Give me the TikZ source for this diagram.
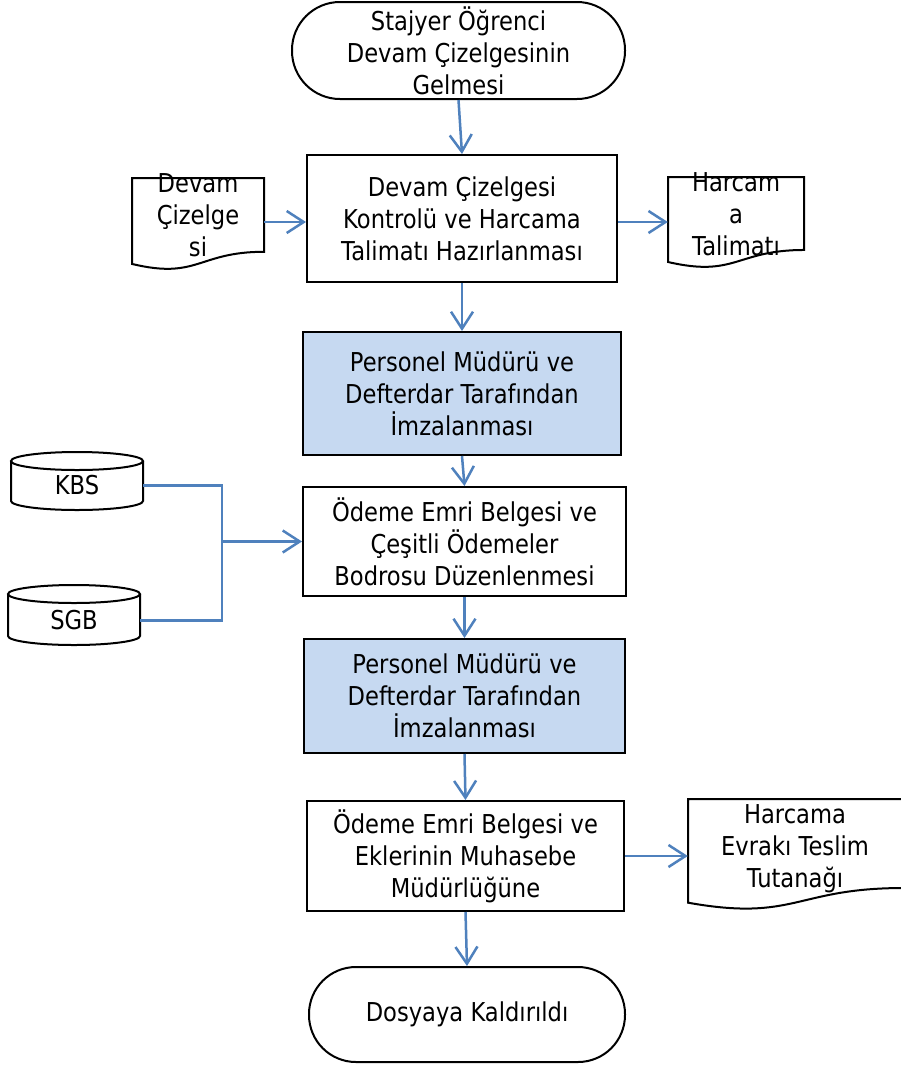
\documentclass[tikz,border=0pt]{standalone}
\usepackage{fontspec}
\setmainfont{DejaVu Sans}[FakeStretch=0.87]
\usetikzlibrary{arrows.meta,calc}
\definecolor{flowblue}{RGB}{79,129,189}
\definecolor{boxfill}{RGB}{198,217,241}
% document shape: left, right, top, height
\newcommand\docshape[4]{%
  \draw[shp] (#1,#3) -- (#2,#3) -- (#2,{#3+0.802*#4})
    .. controls ({(#1+#2)/2},{#3+0.802*#4}) and ({(#1+#2)/2},{#3+1.107*#4}) ..
    (#1,{#3+0.934*#4}) -- cycle;}
% cylinder: cx, top, bottom, rx
\newcommand\cylshape[4]{%
  \draw[shp] (#1,#2+9) ellipse[x radius=#4pt, y radius=9pt];
  \draw[shp] (#1-#4,#2+9) -- (#1-#4,#3-9)
    .. controls (#1-#4,#3-4.03) and ({#1-0.5523*#4},#3) .. (#1,#3)
    .. controls ({#1+0.5523*#4},#3) and (#1+#4,#3-4.03) .. (#1+#4,#3-9)
    -- (#1+#4,#2+9);}
\begin{document}
\begin{tikzpicture}[x=1pt,y=-1pt,
  every node/.style={font=\fontsize{26}{32}\selectfont, align=center, inner sep=0pt},
  shp/.style={draw=black, line width=2pt},
  proc/.style={shp, rectangle, fill=white},
  procblue/.style={proc, fill=boxfill},
  term/.style={shp, rectangle, fill=white},
  arr/.style={draw=flowblue, line width=2.5pt, -{Straight Barb[length=17pt,width=22pt]}},
  conn/.style={draw=flowblue, line width=2.5pt},
]
\useasboundingbox (0,0) rectangle (901,1066);
\fill[white] (0,0) rectangle (901,1066);

% terminals
\node[term, rounded corners=48pt, minimum width=333pt, minimum height=97pt] (start) at (458.5,50.5)
  {Stajyer Öğrenci\\Devam Çizelgesinin\\Gelmesi};
\node[term, rounded corners=47pt, minimum width=316pt, minimum height=95pt] (end) at (467,1014.5)
  {Dosyaya Kaldırıldı};

% process boxes
\node[proc, minimum width=310pt, minimum height=127pt] (b1) at (462,218.5)
  {Devam Çizelgesi\\Kontrolü ve Harcama\\Talimatı Hazırlanması};
\node[procblue, minimum width=318pt, minimum height=123pt] (b2) at (462,393.5)
  {Personel Müdürü ve\\Defterdar Tarafından\\İmzalanması};
\node[proc, minimum width=323pt, minimum height=109pt] (b3) at (464.5,541.5)
  {Ödeme Emri Belgesi ve\\Çeşitli Ödemeler\\Bodrosu Düzenlenmesi};
\node[procblue, minimum width=321pt, minimum height=114pt] (b4) at (464.5,696)
  {Personel Müdürü ve\\Defterdar Tarafından\\İmzalanması};
\node[proc, minimum width=317pt, minimum height=110pt] (b5) at (465.5,856)
  {Ödeme Emri Belgesi ve\\Eklerinin Muhasebe\\Müdürlüğüne};

% documents
\docshape{132}{264}{178}{92}
\node[minimum width=132pt] (dl) at (198,215.5) {Devam\\Çizelge\\si};
\docshape{668}{804}{177}{91}
\node[minimum width=136pt] (dr) at (736,214.5) {Harcam\\a\\Talimatı};
\docshape{688}{903}{799}{111}
\node[minimum width=214pt] (db) at (795,848.5) {Harcama\\Evrakı Teslim\\Tutanağı};

% databases
\cylshape{77}{452}{510}{66}
\node[minimum width=132pt] (kbs) at (77,485.5) {KBS};
\cylshape{74}{585}{645}{66}
\node[minimum width=132pt] (sgb) at (74,620.5) {SGB};

% main flow
\draw[arr] (start.south) -- (b1.north);
\draw[arr] (b1.south) -- (b2.north);
\draw[arr] (b2.south) -- (b3.north);
\draw[arr] (b3.south) -- (b4.north);
\draw[arr] (b4.south) -- (b5.north);
\draw[arr] (b5.south) -- (end.north);

% side flows
\coordinate (al) at ([yshift=-6.5pt]dl.east);
\draw[arr] (al) -- (al -| b1.west);
\coordinate (ar) at ([yshift=-7.5pt]dr.west);
\draw[arr] (ar -| b1.east) -- (ar);
\draw[arr] (b5.east) -- (b5.east -| db.west);

\coordinate (j) at (222,541.5);
\draw[conn] (kbs.east) -| (j);
\draw[conn] (sgb.east) -| (j);
\draw[arr] (j) -- (b3.west);
\end{tikzpicture}
\end{document}
